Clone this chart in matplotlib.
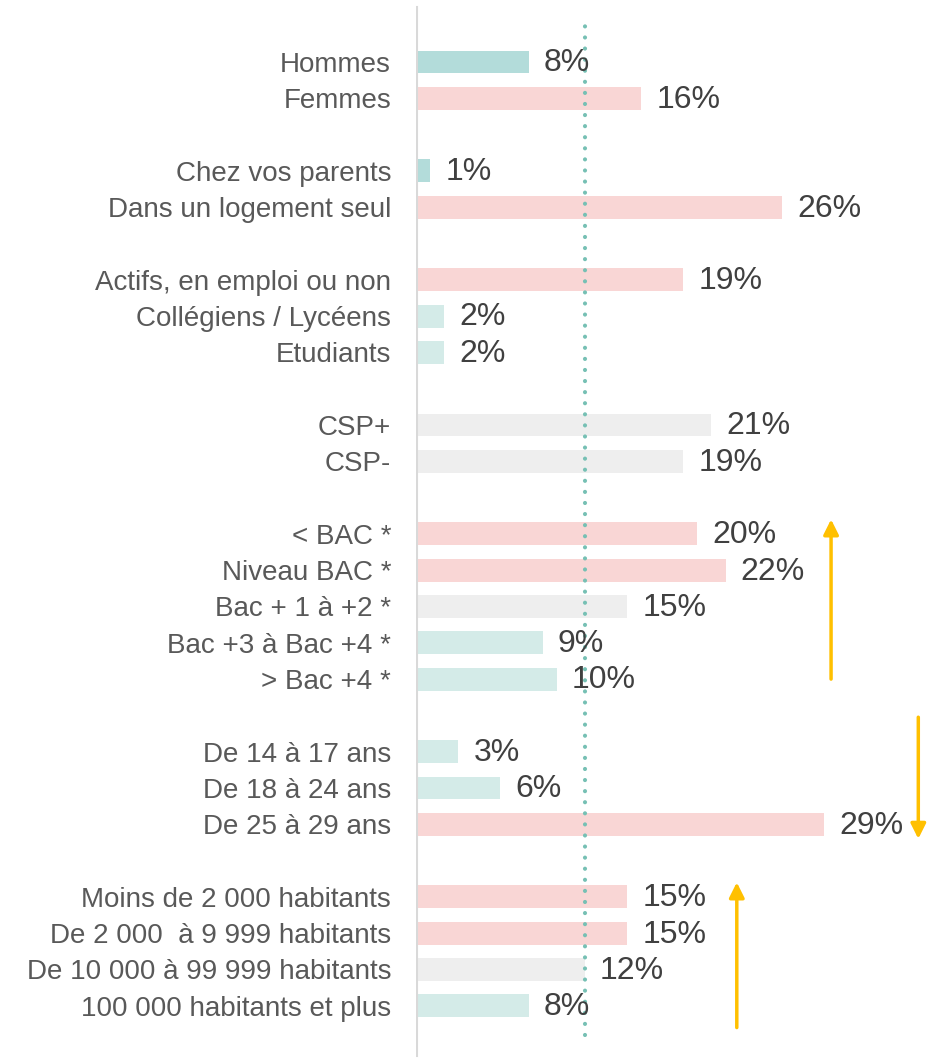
import matplotlib
matplotlib.use("Agg")
import matplotlib.pyplot as plt

plt.rcParams["font.family"] = ["Liberation Sans", "DejaVu Sans"]

# data: groups of rows, a blank slot between groups
groups = [
    (["Hommes", "Femmes"], [8, 16]),
    (["Chez vos parents", "Dans un logement seul"], [1, 26]),
    (["Actifs, en emploi ou non", "Collégiens / Lycéens", "Etudiants"], [19, 2, 2]),
    (["CSP+", "CSP-"], [21, 19]),
    (["< BAC *", "Niveau BAC *", "Bac + 1 à +2 *", "Bac +3 à Bac +4 *", "> Bac +4 *"],
     [20, 22, 15, 9, 10]),
    (["De 14 à 17 ans", "De 18 à 24 ans", "De 25 à 29 ans"], [3, 6, 29]),
    (["Moins de 2 000 habitants", "De 2 000  à 9 999 habitants",
      "De 10 000 à 99 999 habitants", "100 000 habitants et plus"], [15, 15, 12, 8]),
]
# bar tone per row: d = dark teal, t = light teal, p = pink, g = grey
tones = ["d", "p", "d", "p", "p", "t", "t", "g", "g",
         "p", "p", "g", "t", "t", "t", "t", "p", "p", "p", "g", "t"]
REF = 12  # average, dotted line

TONE_COL = {"d": "#b3dcda", "t": "#d4ebe8", "p": "#f9d6d5", "g": "#eeeeee"}

labels, values, pos = [], [], []
slot = 0
for names, vals in groups:
    for n, v in zip(names, vals):
        labels.append(n); values.append(v); pos.append(slot)
        slot += 1
    slot += 1

fig = plt.figure(figsize=(9.38, 10.58), dpi=100)
ax = fig.add_axes([416 / 938, 0, 1 - 416 / 938, 1])
px = 14.07  # pixels per %
ax.set_xlim(0, (938 - 416) / px)
ax.set_ylim((1058 - 62) / 36.3, -62 / 36.3)

ax.barh(pos, values, height=0.63, color=[TONE_COL[t] for t in tones])
for p, v in zip(pos, values):
    ax.annotate(f"{v}%", (v, p), xytext=(11, -1), textcoords="offset points",
                va="center", ha="left", fontsize=23, color="#404040")

ax.set_yticks(pos)
ax.set_yticklabels(labels, fontsize=20, color="#595959")
ax.tick_params(axis="y", length=0, pad=18)
ax.set_xticks([])
for s in ax.spines.values():
    s.set_visible(False)

ax.axvline(0, ymin=3 / 1058, ymax=1 - 7 / 1058, color="#d9d9d9", lw=2.2)
ax.axvline(REF, ymin=23 / 1058, ymax=1 - 25 / 1058, color="#76c0b4", lw=3,
           linestyle=(0, (0.01, 2.65)), dash_capstyle="round")

# trend arrows
arrow = dict(arrowstyle="-|>,head_length=0.9,head_width=0.45", color="#ffc000",
             lw=2.5, shrinkA=0, shrinkB=0)
ax.annotate("", xy=(29.5, 12.6), xytext=(29.5, 17.0), arrowprops=arrow)
ax.annotate("", xy=(35.7, 21.4), xytext=(35.7, 18.05), arrowprops=arrow)
ax.annotate("", xy=(22.8, 22.6), xytext=(22.8, 26.6), arrowprops=arrow)

fig.savefig("out.png", dpi=100)
